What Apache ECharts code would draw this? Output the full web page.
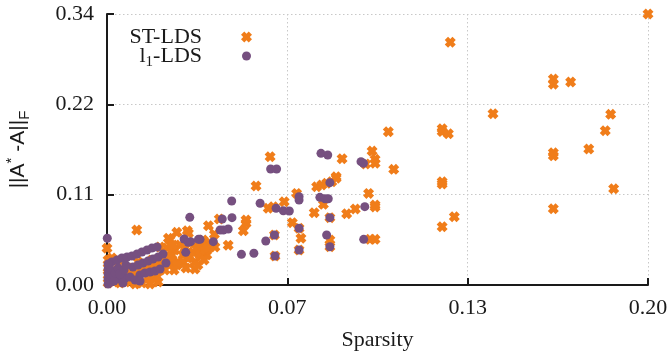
<!DOCTYPE html>
<html>
<head>
<meta charset="utf-8">
<script src="https://cdn.jsdelivr.net/npm/echarts@6/dist/echarts.min.js"></script>
<style>
html,body{margin:0;padding:0;background:#fff;}
#chart{width:668px;height:358px;}
</style>
</head>
<body>
<div id="chart"></div>
<script>
// ST-LDS (orange crosses)
var stSparsity = [
0.2000,0.1269,0.1650,0.1650,0.1714,0.1427,0.1862,0.1239,0.1239,0.1262,
0.1842,0.1781,0.1650,0.1650,0.1239,0.1239,0.1873,0.1650,0.1284,0.1239,
0.1040,0.0980,0.0991,0.0991,0.0956,0.0869,0.1060,0.0847,0.0847,0.0967,
0.0991,0.0991,0.0918,0.0886,0.0972,0.0991,0.0603,0.0551,0.0775,0.0794,
0.0812,0.0831,0.0701,0.0800,0.0655,0.0596,0.0615,0.0766,0.0824,0.0685,
0.0710,0.0717,0.0824,0.0824,0.0619,0.0710,0.0621,0.0375,0.0415,0.0514,
0.0514,0.0504,0.0397,0.0448,0.0344,0.0350,0.0369,0.0258,0.0297,0.0301,
0.0227,0.0110,0.0000,0.0325,0.0233,0.0332,0.0221,
0.0004,0.0004,0.0004,0.0004,0.0018,0.0030,0.0041,0.0048,0.0067,0.0078,
0.0085,0.0104,0.0122,0.0129,0.0152,0.0159,0.0177,0.0189,0.0196,0.0207,
0.0214,0.0233,0.0240,0.0251,0.0262,0.0270,0.0281,0.0288,0.0299,0.0307,
0.0318,0.0325,0.0336,0.0344,0.0355,0.0362,0.0381,0.0196,0.0222,0.0244,
0.0185,0.0166,0.0281,0.0259,0.0307,0.0233,
0.0018,0.0041,0.0055,0.0092,0.0115,0.0140,0.0166,0.0185,0.0248,0.0292,
0.0336,0.0359,0.0373,0.0399,0.0104,0.0159
];
var stError = [
0.3360,0.3009,0.2555,0.2490,0.2517,0.2124,0.2116,0.1937,0.1902,0.1876,
0.1913,0.1686,0.1640,0.1601,0.1281,0.1252,0.1194,0.0946,0.0847,0.0723,
0.1900,0.1660,0.1558,0.1509,0.1500,0.1566,0.1434,0.1343,0.1323,0.1136,
0.0992,0.0967,0.0943,0.0884,0.0566,0.0566,0.1591,0.1227,0.1218,0.1240,
0.1261,0.1281,0.1136,0.1000,0.1033,0.0951,0.0971,0.0896,0.0835,0.0773,
0.0703,0.0579,0.0558,0.0474,0.0620,0.0434,0.0360,0.0735,0.0818,0.0805,
0.0765,0.0673,0.0628,0.0492,0.0474,0.0372,0.0372,0.0653,0.0673,0.0641,
0.0579,0.0682,0.0455,0.0199,0.0558,0.0455,0.0269,
0.0025,0.0124,0.0210,0.0310,0.0062,0.0161,0.0248,0.0025,0.0112,0.0210,
0.0037,0.0124,0.0186,0.0025,0.0087,0.0210,0.0124,0.0037,0.0248,0.0335,
0.0186,0.0285,0.0372,0.0434,0.0285,0.0496,0.0372,0.0458,0.0335,0.0521,
0.0409,0.0285,0.0471,0.0372,0.0558,0.0434,0.0521,0.0471,0.0458,0.0496,
0.0099,0.0161,0.0285,0.0248,0.0347,0.0347,
0.0335,0.0037,0.0186,0.0186,0.0285,0.0236,0.0310,0.0248,0.0186,0.0211,
0.0248,0.0310,0.0459,0.0471,0.0012,0.0012
];
// l1-LDS (purple dots)
var l1Sparsity = [
0.0791,0.0816,0.0939,0.0948,0.0605,0.0627,0.0824,0.0710,0.0710,0.0787,
0.0806,0.0818,0.0566,0.0625,0.0652,0.0674,0.0824,0.0710,0.0812,0.0824,
0.0619,0.0587,0.0710,0.0621,0.0953,0.0949,0.0461,0.0426,0.0462,0.0418,
0.0430,0.0448,0.0393,0.0497,0.0543,0.0344,0.0306,0.0285,0.0300,0.0309,
0.0338,0.0291,0.0001,
0.0018,0.0037,0.0055,0.0074,0.0092,0.0111,0.0129,0.0148,0.0166,0.0185,
0.0096,0.0115,0.0133,0.0152,0.0170,0.0189,0.0207,
0.0122,0.0140,0.0159,0.0177,0.0196,0.0218,
0.0030,0.0048,0.0067,0.0085,0.0104,0.0122,
0.0004,0.0004,0.0004,0.0004,0.0004,0.0015,0.0015,0.0015,0.0026,0.0030,
0.0041,0.0048,0.0063,0.0070,0.0059
];
var l1Error = [
0.1632,0.1612,0.1529,0.1509,0.1438,0.1438,0.1269,0.1095,0.1053,0.1087,
0.1070,0.1070,0.1013,0.0951,0.0921,0.0917,0.0835,0.0703,0.0620,0.0474,
0.0620,0.0545,0.0434,0.0360,0.0971,0.0566,0.1042,0.0818,0.0835,0.0682,
0.0682,0.0695,0.0537,0.0380,0.0393,0.0566,0.0839,0.0570,0.0530,0.0537,
0.0566,0.0405,0.0579,
0.0286,0.0310,0.0335,0.0347,0.0360,0.0384,0.0409,0.0434,0.0458,0.0471,
0.0223,0.0248,0.0273,0.0297,0.0322,0.0347,0.0384,
0.0124,0.0149,0.0161,0.0174,0.0199,0.0273,
0.0087,0.0074,0.0087,0.0099,0.0062,0.0049,
0.0013,0.0074,0.0136,0.0199,0.0260,0.0037,0.0112,0.0186,0.0049,0.0149,
0.0210,0.0136,0.0186,0.0248,0.0025
];
var seriesNames = ['ST-LDS', 'l1-LDS'];
var xTickMax = 0.2, xTickCount = 3;
var yTickMax = 0.336, yTickCount = 3;

function pairs(xs, ys){ var out=[]; for (var i=0;i<xs.length;i++) out.push([xs[i], ys[i]]); return out; }

var ORANGE = '#f07d1a', PURPLE = '#765080', INK = '#1a1a1a';
var SERIF = 'Liberation Serif', SANS = 'Liberation Sans';
var crossPath = 'path://M0,3 L3,0 L5,2 L7,0 L10,3 L8,5 L10,7 L7,10 L5,8 L3,10 L0,7 L2,5 Z';

var chart = echarts.init(document.getElementById('chart'), null, {renderer:'canvas'});
var axisCommon = {
  type: 'value',
  axisLine: {show: true, onZero: false, lineStyle: {color: INK, width: 2}},
  axisTick: {show: true, inside: true, length: 7, lineStyle: {color: INK, width: 2}},
  splitLine: {show: true, lineStyle: {color: '#c8c8c8', type: [1.5, 2.5], width: 1}},
  axisLabel: {fontFamily: SERIF, fontSize: 22, color: INK, formatter: function(v){ return v.toFixed(2); }}
};
var option = {
  animation: false,
  backgroundColor: '#fff',
  grid: {left: 107, right: 20, top: 14, bottom: 73, containLabel: false, outerBoundsMode: 'none'},
  legend: [
    {data: [seriesNames[0]], orient: 'vertical', align: 'right', right: 411, top: 21,
     itemWidth: 11, itemHeight: 11, selectedMode: false,
     formatter: function(){ return '{n|ST-LDS}{g|}'; },
     textStyle: {rich: {n: {fontFamily: SERIF, fontSize: 22, color: INK}, g: {width: 34}}}},
    {data: [seriesNames[1]], orient: 'vertical', align: 'right', right: 412, top: 40,
     itemWidth: 9, itemHeight: 9, selectedMode: false,
     formatter: function(){ return '{n|l}{s|1}{n|-LDS}{g|}'; },
     textStyle: {rich: {n: {fontFamily: SERIF, fontSize: 22, color: INK},
                        s: {fontFamily: SERIF, fontSize: 15, color: INK, padding: [12,0,0,0]},
                        g: {width: 35}}}}
  ],
  xAxis: Object.assign({}, axisCommon, {
    min: 0, max: xTickMax, interval: xTickMax / xTickCount,
    name: 'Sparsity', nameLocation: 'middle', nameGap: 44,
    nameTextStyle: {fontFamily: SERIF, fontSize: 22, color: INK},
    axisLabel: Object.assign({}, axisCommon.axisLabel, {margin: 12})
  }),
  yAxis: Object.assign({}, axisCommon, {
    min: 0, max: yTickMax, interval: yTickMax / yTickCount,
    name: '{n|||A}{sup|*}{n| -A||}{sub|F}', nameLocation: 'middle', nameGap: 74, nameRotate: 90,
    nameTextStyle: {rich: {
      n: {fontFamily: SANS, fontSize: 21, color: INK},
      sup: {fontFamily: SANS, fontSize: 15, color: INK, padding: [0,0,14,0]},
      sub: {fontFamily: SANS, fontSize: 15, color: INK, padding: [12,0,0,0]}
    }},
    axisLabel: Object.assign({}, axisCommon.axisLabel, {margin: 13})
  }),
  series: [
    {name: seriesNames[0], type: 'scatter', symbol: crossPath, symbolSize: 11,
     itemStyle: {color: ORANGE, opacity: 1}, data: pairs(stSparsity, stError), z: 2},
    {name: seriesNames[1], type: 'scatter', symbol: 'circle', symbolSize: 9,
     itemStyle: {color: PURPLE, opacity: 1}, data: pairs(l1Sparsity, l1Error), z: 3}
  ]
};
chart.setOption(option);
</script>
</body>
</html>
